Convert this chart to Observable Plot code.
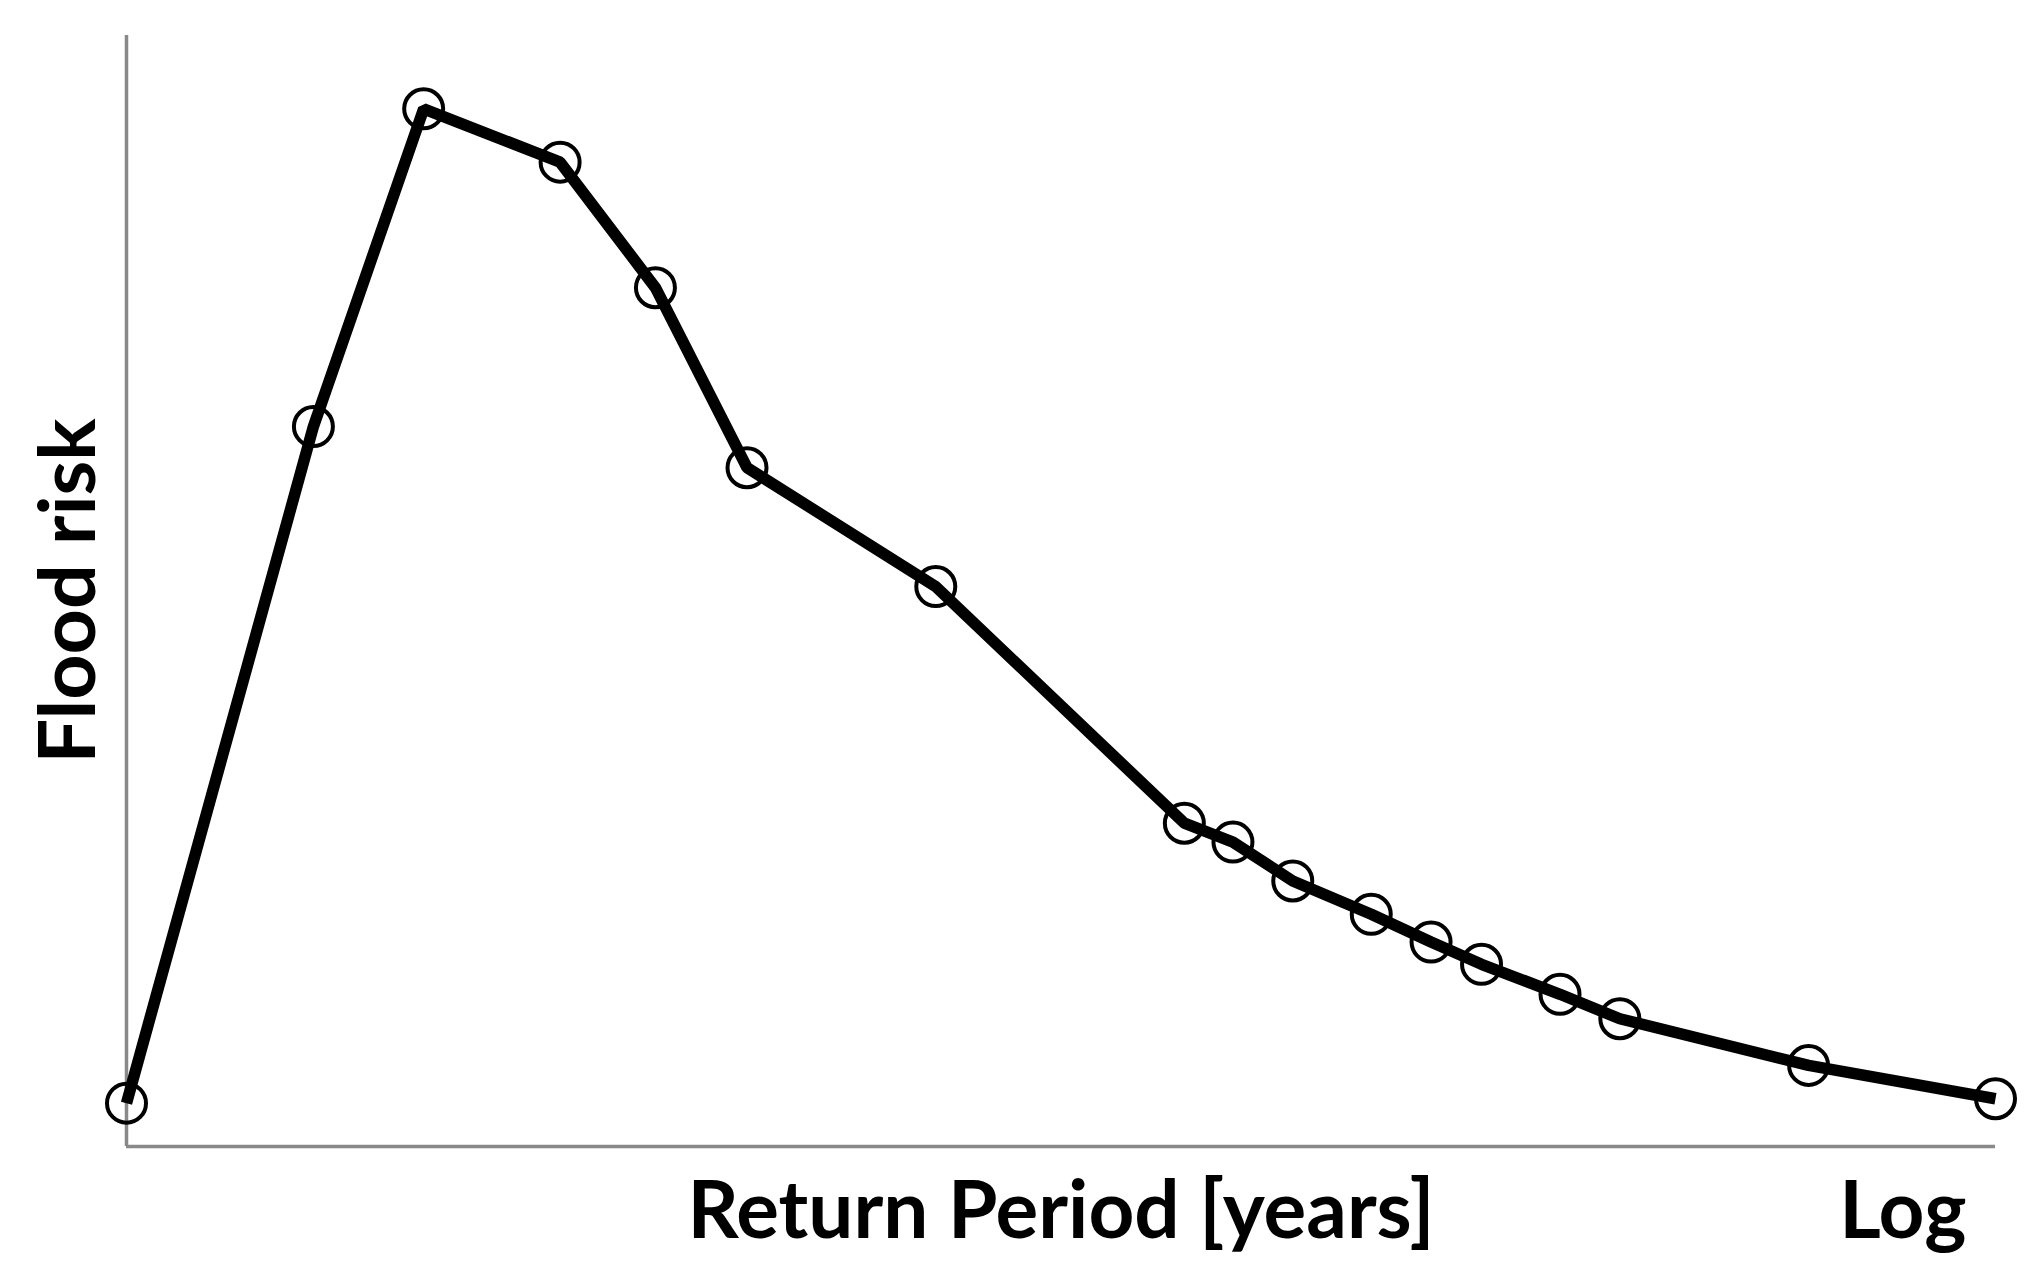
<!DOCTYPE html>
<html>
<head>
<meta charset="utf-8">
<script src="https://cdn.jsdelivr.net/npm/d3@7"></script>
<script src="https://cdn.jsdelivr.net/npm/@observablehq/plot@0.6"></script>
<style>
  html, body { margin: 0; padding: 0; background: #fff; }
</style>
</head>
<body>
<div id="chart"></div>
<script>
// Relative position along the (logarithmic) return-period axis, 0–100
const returnPeriodPos = [0, 10.0, 15.9, 23.2, 28.3, 33.2, 43.3, 56.6, 59.2, 62.4, 66.6, 69.8, 72.5, 76.7, 79.9, 90.0, 100];
// Flood risk (relative units, 0–100)
const floodRisk = [3.9, 64.8, 93.4, 88.6, 77.3, 61.1, 50.4, 29.1, 27.4, 23.9, 20.9, 18.4, 16.4, 13.7, 11.5, 7.3, 4.3];

const xLabel = "Return Period [years]";
const xScaleLabel = "Log";
const yLabel = "Flood risk";

const data = returnPeriodPos.map((x, i) => ({x, y: floodRisk[i]}));

const axisColor = "#898989";
const font = "Lato, 'Open Sans', sans-serif";

const chart = Plot.plot({
  width: 2041,
  height: 1271,
  marginLeft: 126,
  marginRight: 46,
  marginTop: 35,
  marginBottom: 125,
  x: {domain: [0, 100], axis: null},
  y: {domain: [0, 100], axis: null},
  style: {fontFamily: font, fontWeight: "bold", background: "#fff", color: "#000"},
  marks: [
    Plot.ruleX([0], {stroke: axisColor, strokeWidth: 3.5}),
    Plot.ruleY([0], {stroke: axisColor, strokeWidth: 3.5}),
    Plot.line(data, {x: "x", y: "y", stroke: "#000", strokeWidth: 11.5, strokeLinejoin: "miter", strokeLinecap: "butt"}),
    Plot.dot(data, {x: "x", y: "y", r: 19.5, stroke: "#000", strokeWidth: 4, fill: "none"}),
    Plot.text([xLabel], {frameAnchor: "bottom", textAnchor: "middle", lineAnchor: "bottom", dy: 91, fontSize: 80, fontWeight: "bold", fill: "#000"}),
    Plot.text([xScaleLabel], {frameAnchor: "bottom-right", textAnchor: "end", lineAnchor: "bottom", dy: 91, dx: -29, fontSize: 80, fontWeight: "bold", fill: "#000"}),
    Plot.text([yLabel], {frameAnchor: "left", textAnchor: "middle", lineAnchor: "bottom", rotate: -90, dx: -32, fontSize: 79, fontWeight: "bold", fill: "#000"})
  ]
});

document.getElementById("chart").appendChild(chart);
</script>
</body>
</html>
